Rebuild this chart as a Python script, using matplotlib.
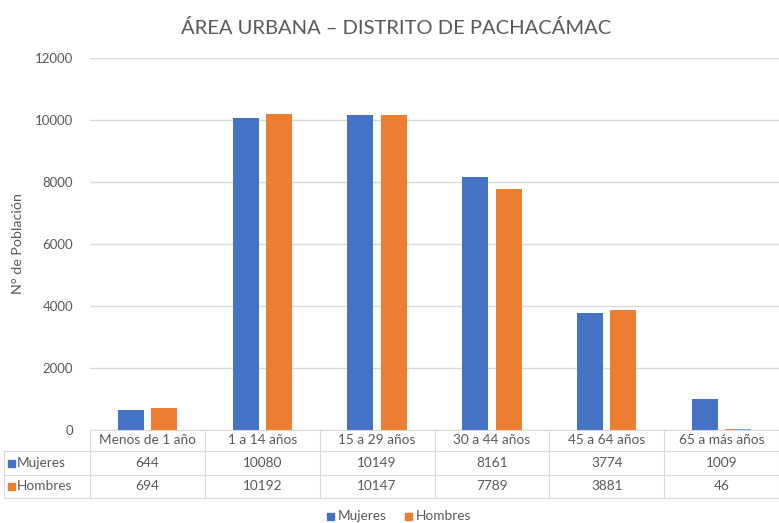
import matplotlib.pyplot as plt
from matplotlib.patches import Rectangle
from matplotlib.lines import Line2D
import numpy as np

plt.rcParams['font.family'] = ['Lato', 'DejaVu Sans']

categories = ['Menos de 1 año', '1 a 14 años', '15 a 29 años', '30 a 44 años', '45 a 64 años', '65 a más años']
mujeres = [644, 10080, 10149, 8161, 3774, 1009]
hombres = [694, 10192, 10147, 7789, 3881, 46]
series_names = ['Mujeres', 'Hombres']
yticks = [0, 2000, 4000, 6000, 8000, 10000, 12000]

blue = '#4472C4'
orange = '#ED7D31'
grid_c = '#d9d9d9'
txt_c = '#595959'
fs = 9.8

W, H = 779, 523
fig = plt.figure(figsize=(W / 100, H / 100), dpi=100)
ax = fig.add_axes([90 / W, 1 - 430 / H, 689 / W, 372 / H])

x = np.arange(len(categories))
bw = 0.226
off = 0.145
ax.bar(x - off, mujeres, bw, color=blue, zorder=3)
ax.bar(x + off, hombres, bw, color=orange, zorder=3)

ax.set_xlim(-0.5, len(categories) - 0.5)
ax.set_ylim(0, 12000)
ax.set_yticks(yticks)
ax.set_yticklabels([str(t) for t in yticks], color=txt_c, fontsize=9.5)
ax.tick_params(axis='y', length=0, pad=12)
ax.set_xticks([])
ax.grid(axis='y', color=grid_c, linewidth=1, zorder=0)
for s in ax.spines.values():
    s.set_visible(False)

fig.text(18 / W, 1 - 244 / H, 'N° de Población', rotation=90, ha='center', va='center',
         color=txt_c, fontsize=10.3)
fig.text(396 / W, 1 - 28 / H, 'ÁREA URBANA – DISTRITO DE PACHACÁMAC',
         ha='center', va='center', fontsize=14.5, color='#595959')

# data table below the axes (figure pixel coords)
def fx(px):
    return px / W

def fy(py):
    return 1 - py / H

col_edges = [90 + i * 689 / 6 for i in range(7)]
rows_y = [430, 451, 475, 498]
lw = 0.8
# horizontal lines
fig.add_artist(Line2D([fx(90), fx(779)], [fy(430), fy(430)], color=grid_c, lw=lw))
for yy in rows_y[1:]:
    fig.add_artist(Line2D([fx(4), fx(779)], [fy(yy), fy(yy)], color=grid_c, lw=lw))
# vertical lines
for xe in col_edges:
    fig.add_artist(Line2D([fx(xe), fx(xe)], [fy(430), fy(498)], color=grid_c, lw=lw))
fig.add_artist(Line2D([fx(4), fx(4)], [fy(451), fy(498)], color=grid_c, lw=lw))

for i, c in enumerate(categories):
    cx = (col_edges[i] + col_edges[i + 1]) / 2
    fig.text(fx(cx), fy(440.5), c, ha='center', va='center', fontsize=fs, color=txt_c)
    fig.text(fx(cx), fy(463), str(mujeres[i]), ha='center', va='center', fontsize=fs, color=txt_c)
    fig.text(fx(cx), fy(486.5), str(hombres[i]), ha='center', va='center', fontsize=fs, color=txt_c)

for ry, name, col in [(463, series_names[0], blue), (486.5, series_names[1], orange)]:
    fig.add_artist(Rectangle((fx(8), fy(ry + 3.5)), 7 / W, 7 / H, color=col))
    fig.text(fx(17), fy(ry), name, ha='left', va='center', fontsize=fs, color=txt_c)

# legend
for lx, name, col in [(327, series_names[0], blue), (405, series_names[1], orange)]:
    fig.add_artist(Rectangle((fx(lx), fy(520)), 7 / W, 7 / H, color=col))
    fig.text(fx(lx + 11), fy(516.5), name, ha='left', va='center', fontsize=fs, color=txt_c)

fig.savefig('out.png', dpi=100)
